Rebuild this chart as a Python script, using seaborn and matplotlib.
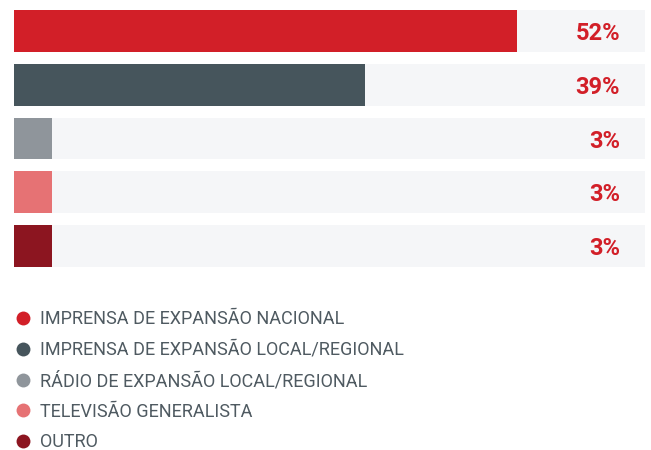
import matplotlib
matplotlib.use("Agg")
import matplotlib.pyplot as plt
from matplotlib.lines import Line2D
import seaborn as sns
import pandas as pd

# Données
categories = [
    "IMPRENSA DE EXPANSÃO NACIONAL",
    "IMPRENSA DE EXPANSÃO LOCAL/REGIONAL",
    "RÁDIO DE EXPANSÃO LOCAL/REGIONAL",
    "TELEVISÃO GENERALISTA",
    "OUTRO",
]
percent_labels = [52, 39, 3, 3, 3]
# longueurs des barres (même échelle que les %)
bar_lengths = [52, 36.3, 3.9, 3.9, 3.9]
track_max = 65.2

colors = ["#d21f28", "#46555c", "#8f959b", "#e67274", "#8c1520"]
track_color = "#f5f6f8"
text_color = "#4f5a61"

sns.set_style("white")
plt.rcParams['font.family'] = ['Roboto', 'DejaVu Sans']

df = pd.DataFrame({"cat": categories, "val": bar_lengths,
                   "track": [track_max] * len(categories)})

fig = plt.figure(figsize=(6.51, 4.50), dpi=100)
ax = fig.add_axes([14 / 651, 1 - 267 / 450, 631 / 651, 257 / 450])

w = 42 / 54
# piste de fond puis barres colorées
sns.barplot(data=df, x="track", y="cat", color=track_color, width=w,
            ax=ax, saturation=1)
sns.barplot(data=df, x="val", y="cat", hue="cat", palette=colors, width=w,
            ax=ax, saturation=1, legend=False)
for p in ax.patches:
    p.set_linewidth(0)

ax.set_xlim(0, track_max)
ax.set_ylim(len(categories) - 1 + w / 2, -w / 2)

for i, v in enumerate(percent_labels):
    ax.text(track_max * (620 - 14) / 631, i, f"{v}%", ha="right",
            va="center_baseline", color="#d21f28", fontsize=17,
            fontweight="bold")

ax.axis("off")

handles = [Line2D([0], [0], marker="o", linestyle="", markersize=10,
                  markerfacecolor=c, markeredgewidth=0) for c in colors]
fig.legend(handles, categories, loc="upper left",
           bbox_to_anchor=(6 / 651, 1 - 303 / 450), frameon=False,
           fontsize=13, labelcolor=text_color, labelspacing=0.7,
           handletextpad=0.4, handlelength=1.1, borderaxespad=0)

fig.savefig("out.png", dpi=100)
